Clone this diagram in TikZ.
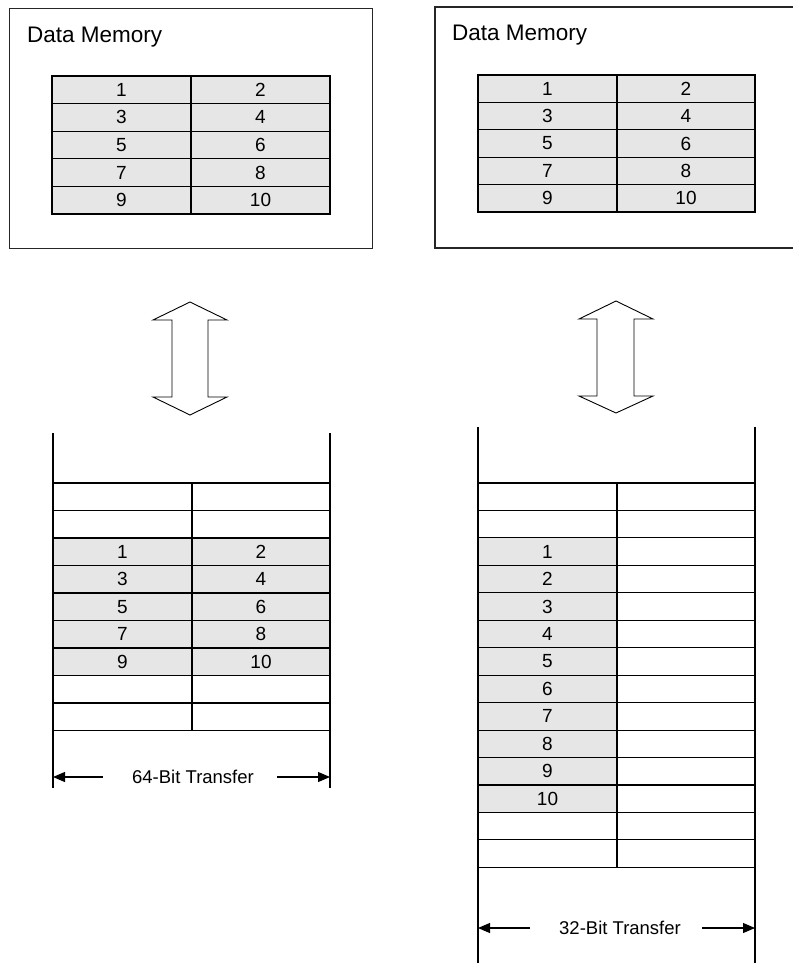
\documentclass[tikz,border=0pt]{standalone}
\usepackage{fontspec}
\setmainfont{Liberation Sans}
\usetikzlibrary{arrows.meta}
\definecolor{cellgray}{HTML}{E6E6E6}
\tikzset{
  cell/.style={draw=black, line width=1.1pt, minimum width=139pt, minimum height=27.5pt,
    inner sep=0pt, outer sep=0pt, font=\fontsize{19}{19}\selectfont, anchor=north west},
  full/.style={cell, fill=cellgray},
  empty/.style={cell, fill=white},
  frame/.style={draw=black!85, line width=1.2pt},
  hollow/.style={draw=black, line width=0.9pt, fill=white, line join=miter},
  dim/.style={line width=1.1pt, -{Triangle[length=12pt,width=10pt]}},
  title/.style={font=\fontsize{22.5}{22.5}\selectfont, anchor=west, inner sep=0pt, text depth=0pt},
  lab/.style={font=\fontsize{18.5}{18.5}\selectfont, inner sep=0pt}
}
\begin{document}
\begin{tikzpicture}[x=1pt,y=-1pt]
\useasboundingbox (0,0) rectangle (793,963);
% ---------- top left memory ----------
\node[frame, minimum width=363pt, minimum height=240pt, anchor=north west, inner sep=0pt] (memL) at (9,8) {};
\node[title] (titleL) at (27,35) {Data Memory};
\foreach \r/\a/\b [count=\i from 0] in {0/1/2,1/3/4,2/5/6,3/7/8,4/9/10}{
  \node[full, minimum width=139pt, minimum height=27.6pt] (mL\r a) at (52,{76+27.6*\i}) {\a};
  \node[full, minimum width=139pt, minimum height=27.6pt] (mL\r b) at (191,{76+27.6*\i}) {\b};
}
% ---------- top right memory (right edge cut off) ----------
\coordinate (mRtl) at (435,7);
\coordinate (mRtr) at (793,7);
\coordinate (mRbl) at (435,248);
\coordinate (mRbr) at (793,248);
\draw[frame] (mRtr) -- (mRtl) -- (mRbl) -- (mRbr);
\node[title] (titleR) at (452,33) {Data Memory};
\foreach \r/\a/\b [count=\i from 0] in {0/1/2,1/3/4,2/5/6,3/7/8,4/9/10}{
  \node[full, minimum width=139pt, minimum height=27.4pt] (mR\r a) at (478,{75+27.4*\i}) {\a};
  \node[full, minimum width=138pt, minimum height=27.4pt] (mR\r b) at (617,{75+27.4*\i}) {\b};
}
% ---------- hollow double arrows ----------
\draw[hollow] (190,302) -- (227,320) -- (208,320) -- (208,397) -- (227,397) -- (190,415)
  -- (153,397) -- (172,397) -- (172,320) -- (153,320) -- cycle;
\draw[hollow] (616,301) -- (653,319) -- (634,319) -- (634,396) -- (653,396) -- (616,413)
  -- (579,396) -- (597,396) -- (597,319) -- (579,319) -- cycle;
% ---------- bottom left: 64-bit register ----------
\coordinate (bLt) at (53,433);
\coordinate (bLb) at (53,788);
\coordinate (bRt) at (330,433);
\coordinate (bRb) at (330,788);
\draw[line width=1.1pt] (bLt) -- (bLb);
\draw[line width=1.1pt] (bRt) -- (bRb);
\foreach \a/\b/\s [count=\i from 0] in {{}/{}/empty,{}/{}/empty,1/2/full,3/4/full,5/6/full,7/8/full,9/10/full,{}/{}/empty,{}/{}/empty}{
  \node[\s, minimum width=139pt, minimum height=27.5pt] (rL\i a) at (53,{483+27.5*\i}) {\a};
  \node[\s, minimum width=138pt, minimum height=27.5pt] (rL\i b) at (192,{483+27.5*\i}) {\b};
}
\node[lab] (t64) at (193,777) {64-Bit Transfer};
\coordinate (t64l) at (53,777);
\coordinate (t64r) at (330,777);
\draw[dim] (103,777) -- (t64l);
\draw[dim] (277,777) -- (t64r);
% ---------- bottom right: 32-bit register ----------
\coordinate (cLt) at (478,427);
\coordinate (cLb) at (478,963);
\coordinate (cRt) at (755,427);
\coordinate (cRb) at (755,963);
\draw[line width=1.1pt] (cLt) -- (cLb);
\draw[line width=1.1pt] (cRt) -- (cRb);
\foreach \a/\s [count=\i from 0] in {{}/empty,{}/empty,1/full,2/full,3/full,4/full,5/full,6/full,7/full,8/full,9/full,10/full,{}/empty,{}/empty}{
  \node[\s, minimum width=139pt, minimum height=27.45pt] (rR\i a) at (478,{483+27.45*\i}) {\a};
  \node[empty, minimum width=138pt, minimum height=27.45pt] (rR\i b) at (617,{483+27.45*\i}) {};
}
\node[lab] (t32) at (620,928) {32-Bit Transfer};
\coordinate (t32l) at (478,928);
\coordinate (t32r) at (755,928);
\draw[dim] (530,928) -- (t32l);
\draw[dim] (702,928) -- (t32r);
\end{tikzpicture}
\end{document}
